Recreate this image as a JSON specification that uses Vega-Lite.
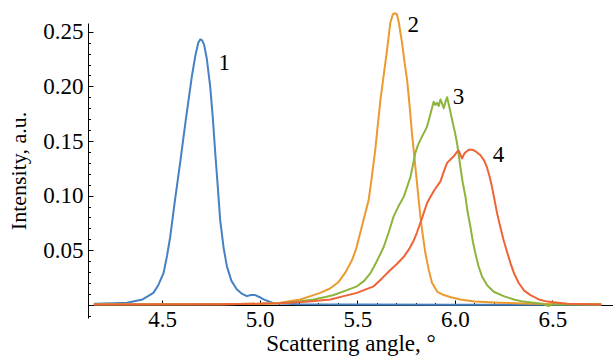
{
  "$schema": "https://vega.github.io/schema/vega-lite/v6.json",
  "width": 525,
  "height": 295,
  "autosize": "none",
  "padding": {"left": 88, "top": 23, "right": 0, "bottom": 41},
  "background": "white",
  "config": {"view": {"stroke": null}, "font": "Liberation Serif"},
  "datasets": {
    "curves": [
      {"s":"1","x":4.15,"y":0.001},{"s":"1","x":4.25,"y":0.0015},{"s":"1","x":4.32,"y":0.002},{"s":"1","x":4.40,"y":0.005},{"s":"1","x":4.455,"y":0.011},{"s":"1","x":4.48,"y":0.018},{"s":"1","x":4.507,"y":0.029},{"s":"1","x":4.525,"y":0.045},{"s":"1","x":4.541,"y":0.062},{"s":"1","x":4.565,"y":0.095},{"s":"1","x":4.592,"y":0.130},{"s":"1","x":4.62,"y":0.168},{"s":"1","x":4.652,"y":0.209},{"s":"1","x":4.67,"y":0.228},{"s":"1","x":4.685,"y":0.240},{"s":"1","x":4.695,"y":0.243},{"s":"1","x":4.705,"y":0.242},{"s":"1","x":4.715,"y":0.238},{"s":"1","x":4.729,"y":0.225},{"s":"1","x":4.746,"y":0.200},{"s":"1","x":4.76,"y":0.170},{"s":"1","x":4.772,"y":0.139},{"s":"1","x":4.785,"y":0.108},{"s":"1","x":4.797,"y":0.078},{"s":"1","x":4.815,"y":0.052},{"s":"1","x":4.832,"y":0.035},{"s":"1","x":4.855,"y":0.022},{"s":"1","x":4.883,"y":0.014},{"s":"1","x":4.91,"y":0.010},{"s":"1","x":4.934,"y":0.008},{"s":"1","x":4.955,"y":0.009},{"s":"1","x":4.977,"y":0.009},{"s":"1","x":5.0,"y":0.007},{"s":"1","x":5.02,"y":0.005},{"s":"1","x":5.07,"y":0.0015},{"s":"1","x":5.2,"y":0.0005},{"s":"1","x":5.5,"y":0.0003},{"s":"1","x":6.0,"y":0.0002},{"s":"1","x":6.5,"y":0.0002},{"s":"1","x":6.75,"y":0.0002},
      {"s":"2","x":4.15,"y":0.0005},{"s":"2","x":4.8,"y":0.0005},{"s":"2","x":5.0,"y":0.001},{"s":"2","x":5.105,"y":0.002},{"s":"2","x":5.208,"y":0.005},{"s":"2","x":5.26,"y":0.008},{"s":"2","x":5.31,"y":0.011},{"s":"2","x":5.36,"y":0.015},{"s":"2","x":5.404,"y":0.021},{"s":"2","x":5.44,"y":0.030},{"s":"2","x":5.473,"y":0.041},{"s":"2","x":5.495,"y":0.052},{"s":"2","x":5.515,"y":0.066},{"s":"2","x":5.535,"y":0.080},{"s":"2","x":5.558,"y":0.096},{"s":"2","x":5.575,"y":0.118},{"s":"2","x":5.592,"y":0.142},{"s":"2","x":5.605,"y":0.165},{"s":"2","x":5.618,"y":0.187},{"s":"2","x":5.635,"y":0.210},{"s":"2","x":5.652,"y":0.233},{"s":"2","x":5.669,"y":0.258},{"s":"2","x":5.682,"y":0.266},{"s":"2","x":5.693,"y":0.267},{"s":"2","x":5.703,"y":0.266},{"s":"2","x":5.712,"y":0.259},{"s":"2","x":5.72,"y":0.250},{"s":"2","x":5.729,"y":0.240},{"s":"2","x":5.742,"y":0.222},{"s":"2","x":5.755,"y":0.206},{"s":"2","x":5.768,"y":0.182},{"s":"2","x":5.78,"y":0.157},{"s":"2","x":5.793,"y":0.134},{"s":"2","x":5.806,"y":0.111},{"s":"2","x":5.823,"y":0.081},{"s":"2","x":5.836,"y":0.063},{"s":"2","x":5.849,"y":0.047},{"s":"2","x":5.866,"y":0.032},{"s":"2","x":5.883,"y":0.020},{"s":"2","x":5.91,"y":0.012},{"s":"2","x":5.943,"y":0.009},{"s":"2","x":5.98,"y":0.007},{"s":"2","x":6.028,"y":0.005},{"s":"2","x":6.1,"y":0.003},{"s":"2","x":6.23,"y":0.002},{"s":"2","x":6.4,"y":0.001},{"s":"2","x":6.75,"y":0.0005},
      {"s":"3","x":4.15,"y":0.0003},{"s":"3","x":4.8,"y":0.0005},{"s":"3","x":5.0,"y":0.001},{"s":"3","x":5.105,"y":0.0015},{"s":"3","x":5.2,"y":0.003},{"s":"3","x":5.276,"y":0.005},{"s":"3","x":5.33,"y":0.007},{"s":"3","x":5.379,"y":0.009},{"s":"3","x":5.44,"y":0.013},{"s":"3","x":5.498,"y":0.017},{"s":"3","x":5.535,"y":0.022},{"s":"3","x":5.567,"y":0.029},{"s":"3","x":5.60,"y":0.040},{"s":"3","x":5.635,"y":0.053},{"s":"3","x":5.66,"y":0.066},{"s":"3","x":5.686,"y":0.081},{"s":"3","x":5.71,"y":0.090},{"s":"3","x":5.738,"y":0.099},{"s":"3","x":5.755,"y":0.108},{"s":"3","x":5.772,"y":0.117},{"s":"3","x":5.785,"y":0.128},{"s":"3","x":5.797,"y":0.139},{"s":"3","x":5.81,"y":0.146},{"s":"3","x":5.823,"y":0.151},{"s":"3","x":5.84,"y":0.157},{"s":"3","x":5.857,"y":0.163},{"s":"3","x":5.875,"y":0.175},{"s":"3","x":5.891,"y":0.186},{"s":"3","x":5.90,"y":0.183},{"s":"3","x":5.908,"y":0.185},{"s":"3","x":5.917,"y":0.182},{"s":"3","x":5.926,"y":0.188},{"s":"3","x":5.935,"y":0.184},{"s":"3","x":5.943,"y":0.180},{"s":"3","x":5.952,"y":0.186},{"s":"3","x":5.96,"y":0.190},{"s":"3","x":5.973,"y":0.180},{"s":"3","x":5.986,"y":0.169},{"s":"3","x":6.0,"y":0.158},{"s":"3","x":6.011,"y":0.148},{"s":"3","x":6.028,"y":0.126},{"s":"3","x":6.04,"y":0.112},{"s":"3","x":6.054,"y":0.099},{"s":"3","x":6.065,"y":0.085},{"s":"3","x":6.079,"y":0.072},{"s":"3","x":6.092,"y":0.058},{"s":"3","x":6.105,"y":0.047},{"s":"3","x":6.12,"y":0.036},{"s":"3","x":6.139,"y":0.026},{"s":"3","x":6.165,"y":0.018},{"s":"3","x":6.199,"y":0.012},{"s":"3","x":6.25,"y":0.008},{"s":"3","x":6.302,"y":0.005},{"s":"3","x":6.35,"y":0.003},{"s":"3","x":6.404,"y":0.002},{"s":"3","x":6.45,"y":0.001},{"s":"3","x":6.48,"y":-0.001},{"s":"3","x":6.50,"y":0.0005},{"s":"3","x":6.75,"y":0.0003},
      {"s":"4","x":4.15,"y":0.0003},{"s":"4","x":4.8,"y":0.0005},{"s":"4","x":5.0,"y":0.001},{"s":"4","x":5.105,"y":0.0015},{"s":"4","x":5.25,"y":0.003},{"s":"4","x":5.362,"y":0.005},{"s":"4","x":5.43,"y":0.008},{"s":"4","x":5.498,"y":0.011},{"s":"4","x":5.54,"y":0.014},{"s":"4","x":5.584,"y":0.017},{"s":"4","x":5.625,"y":0.024},{"s":"4","x":5.669,"y":0.032},{"s":"4","x":5.70,"y":0.037},{"s":"4","x":5.738,"y":0.044},{"s":"4","x":5.765,"y":0.051},{"s":"4","x":5.789,"y":0.059},{"s":"4","x":5.805,"y":0.066},{"s":"4","x":5.823,"y":0.075},{"s":"4","x":5.84,"y":0.084},{"s":"4","x":5.857,"y":0.093},{"s":"4","x":5.875,"y":0.099},{"s":"4","x":5.891,"y":0.104},{"s":"4","x":5.91,"y":0.109},{"s":"4","x":5.926,"y":0.113},{"s":"4","x":5.943,"y":0.122},{"s":"4","x":5.96,"y":0.130},{"s":"4","x":5.977,"y":0.133},{"s":"4","x":5.994,"y":0.136},{"s":"4","x":6.011,"y":0.140},{"s":"4","x":6.02,"y":0.141},{"s":"4","x":6.036,"y":0.134},{"s":"4","x":6.05,"y":0.139},{"s":"4","x":6.071,"y":0.142},{"s":"4","x":6.09,"y":0.142},{"s":"4","x":6.11,"y":0.140},{"s":"4","x":6.131,"y":0.137},{"s":"4","x":6.15,"y":0.132},{"s":"4","x":6.164,"y":0.126},{"s":"4","x":6.177,"y":0.118},{"s":"4","x":6.19,"y":0.108},{"s":"4","x":6.203,"y":0.096},{"s":"4","x":6.216,"y":0.084},{"s":"4","x":6.233,"y":0.071},{"s":"4","x":6.25,"y":0.059},{"s":"4","x":6.268,"y":0.048},{"s":"4","x":6.285,"y":0.038},{"s":"4","x":6.305,"y":0.028},{"s":"4","x":6.327,"y":0.020},{"s":"4","x":6.355,"y":0.013},{"s":"4","x":6.387,"y":0.009},{"s":"4","x":6.43,"y":0.005},{"s":"4","x":6.473,"y":0.003},{"s":"4","x":6.575,"y":0.001},{"s":"4","x":6.75,"y":0.0003}
    ],
    "labels": [
      {"s":"1","x":4.818,"y":0.221,"label":"1"},
      {"s":"2","x":5.787,"y":0.256,"label":"2"},
      {"s":"3","x":6.018,"y":0.190,"label":"3"},
      {"s":"4","x":6.223,"y":0.137,"label":"4"}
    ]
  },
  "layer": [
    {
      "data": {"name": "curves"},
      "mark": {"type": "line", "strokeWidth": 2, "clip": false, "strokeJoin": "round"},
      "encoding": {
        "x": {"field": "x", "type": "quantitative",
          "scale": {"domain": [4.12, 6.81], "nice": false, "zero": false},
          "axis": {"orient": "bottom", "offset": -13, "values": [4.5, 5.0, 5.5, 6.0, 6.5], "format": ".1f",
            "tickSize": -5, "labelPadding": 8, "grid": false, "domainColor": "#000", "tickColor": "#000",
            "labelFont": "Liberation Serif", "labelFontSize": 23, "labelColor": "#000",
            "title": "Scattering angle, °", "titleFont": "Liberation Serif", "titleFontSize": 23,
            "titleFontWeight": "normal", "titleColor": "#000", "titlePadding": 1}},
        "y": {"field": "y", "type": "quantitative",
          "scale": {"domain": [-0.012, 0.258], "nice": false, "zero": false},
          "axis": {"orient": "left", "values": [0.05, 0.1, 0.15, 0.2, 0.25], "format": ".2f",
            "tickSize": -5, "labelPadding": 10, "grid": false, "domainColor": "#000", "tickColor": "#000",
            "labelFont": "Liberation Serif", "labelFontSize": 23, "labelColor": "#000",
            "title": "Intensity, a.u.", "titleFont": "Liberation Serif", "titleFontSize": 22,
            "titleFontWeight": "normal", "titleColor": "#000", "titlePadding": 12}},
        "color": {"field": "s", "type": "nominal",
          "scale": {"domain": ["1", "2", "3", "4"], "range": ["#4581C3", "#EC9A2E", "#8DB43C", "#EF6436"]},
          "legend": null}
      }
    },
    {
      "data": {"name": "labels"},
      "mark": {"type": "text", "font": "Liberation Serif", "fontSize": 23, "color": "#000"},
      "encoding": {
        "x": {"field": "x", "type": "quantitative", "axis": null},
        "y": {"field": "y", "type": "quantitative", "axis": null},
        "text": {"field": "label"}
      }
    },
    {
      "data": {"name": "curves"},
      "mark": {"type": "line", "opacity": 0},
      "encoding": {
        "x": {"field": "x", "type": "quantitative",
          "axis": {"orient": "bottom", "offset": -13, "values": [4.2,4.3,4.4,4.6,4.7,4.8,4.9,5.1,5.2,5.3,5.4,5.6,5.7,5.8,5.9,6.1,6.2,6.3,6.4,6.6,6.7],
            "tickSize": -2.5, "labels": false, "domain": false, "grid": false, "title": null, "tickColor": "#000"}},
        "y": {"field": "y", "type": "quantitative",
          "axis": {"orient": "left", "values": [-0.01,0.01,0.02,0.03,0.04,0.06,0.07,0.08,0.09,0.11,0.12,0.13,0.14,0.16,0.17,0.18,0.19,0.21,0.22,0.23,0.24],
            "tickSize": -2.5, "labels": false, "domain": false, "grid": false, "title": null, "tickColor": "#000"}},
        "detail": {"field": "s"}
      }
    }
  ],
  "resolve": {"axis": {"x": "independent", "y": "independent"}}
}
